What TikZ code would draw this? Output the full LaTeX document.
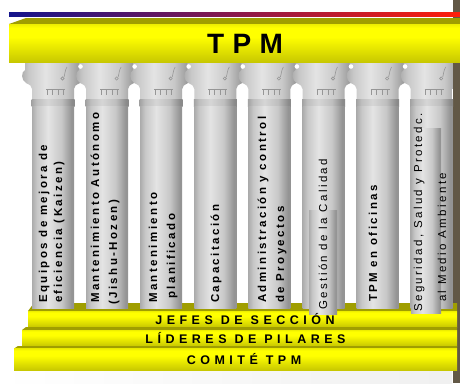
\documentclass[tikz,border=0pt]{standalone}
\usepackage{fontspec}
\setmainfont{Liberation Sans}
\newfontfamily\colfont[LetterSpace=21]{Liberation Sans}
\newfontfamily\barfont[LetterSpace=36]{Liberation Sans}
\newfontfamily\titlefont[LetterSpace=30]{Liberation Sans}

% greys of the columns
\definecolor{shL}{RGB}{172,172,172}
\definecolor{shM}{RGB}{200,200,200}
\definecolor{shH}{RGB}{228,228,228}
\definecolor{shD}{RGB}{148,148,148}
\definecolor{rgL}{RGB}{162,162,162}
\definecolor{rgM}{RGB}{190,190,190}
\definecolor{rgH}{RGB}{214,214,214}
\definecolor{rgD}{RGB}{138,138,138}
% yellows of beam and steps
\definecolor{yD}{RGB}{200,200,0}
\definecolor{yB}{RGB}{255,255,0}
\definecolor{yT}{RGB}{238,238,0}
\definecolor{olive}{RGB}{160,158,0}
\definecolor{frame}{RGB}{98,88,70}
\definecolor{deco}{RGB}{150,150,150}

\pgfdeclarehorizontalshading{shaft}{100bp}{color(0bp)=(shL); color(25bp)=(shL); color(31bp)=(shM); color(44bp)=(shH); color(60bp)=(shM); color(72bp)=(shD); color(100bp)=(shD)}
\pgfdeclarehorizontalshading{ring}{100bp}{color(0bp)=(rgL); color(25bp)=(rgL); color(31bp)=(rgM); color(44bp)=(rgH); color(60bp)=(rgM); color(72bp)=(rgD); color(100bp)=(rgD)}
\pgfdeclareverticalshading{ybar}{100bp}{color(0bp)=(yD); color(25bp)=(yD); color(58bp)=(yB); color(70bp)=(yB); color(75bp)=(yT); color(100bp)=(yT)}

\tikzset{
  coltxt/.style={rotate=90, anchor=base west, inner sep=0pt, font=\fontsize{11.5}{13}\colfont\bfseries},
  coltxtreg/.style={rotate=90, anchor=base west, inner sep=0pt, font=\fontsize{11.5}{13}\colfont},
  bartxt/.style={anchor=base, inner sep=0pt, font=\fontsize{12.5}{14}\barfont\bfseries},
  yellowbar/.style={shading=ybar},
  oliveface/.style={fill=olive},
  shaftfill/.style={shading=shaft},
  ringfill/.style={shading=ring},
  ornament/.style={draw=deco, line width=0.6pt}
}

\begin{document}
\begin{tikzpicture}[x=1pt, y=-1pt]
\useasboundingbox (0,0) rectangle (460,383);
\fill[white] (0,0) rectangle (460,383);
% faint shade along the bottom
\fill[left color=white, right color=black!6] (0,371) rectangle (452,383);

% dark frame strip on the right
\fill[frame] (452.5,0) rectangle (460,383);

% coloured rule on top
\fill[left color={rgb,255:red,20;green,20;blue,140}, middle color={rgb,255:red,140;green,20;blue,140}, right color={rgb,255:red,255;green,30;blue,10}] (9,12.5) rectangle (460,16.5);

% capitals
\begin{scope}
\clip (0,0) rectangle (452.5,383);
\foreach \i in {0,...,7}{
  \pgfmathsetmacro\X{32+54.1*\i}
  \path[shaftfill] (\X-7,62) -- (\X+49,62) -- (\X+49,70)
     .. controls (\X+53,72) and (\X+53,80) .. (\X+48,83)
     .. controls (\X+44,85) and (\X+42,86) .. (\X+42,89)
     -- (\X+42,100) -- (\X,100) -- (\X,89)
     .. controls (\X,86) and (\X-2,85) .. (\X-6,83)
     .. controls (\X-11,80) and (\X-11,72) .. (\X-7,70) -- cycle;
  % volute and egg-and-dart marks
  \draw[ornament] (\X+35,67) .. controls (\X+33,70) and (\X+33,74) .. (\X+32,77);
  \draw[ornament] (\X+30.5,78.5) circle (1.6);
  \draw[ornament] (\X+14,89.5) -- (\X+33,89.5);
  \foreach \d in {15,20,26,31}{\draw[ornament] (\X+\d,89.5) -- (\X+\d,95);}
}
\foreach \i in {0,...,6}{
  \pgfmathsetmacro\X{32+54.1*\i}
  \fill[white] (\X+48.5,66.5) circle (2.3);
}
\end{scope}

% beam
\fill[oliveface] (9,24) -- (26,18) -- (460,18) -- (460,24) -- cycle;
\path[yellowbar] (9,24) rectangle (460,62);
\node (tpm) at (245,53) [anchor=base, inner sep=0pt, font=\fontsize{28}{30}\titlefont\bfseries] {TPM};

% steps
\fill[oliveface] (28,311) -- (34,303) -- (457,303) -- (457,311) -- cycle;
\path[yellowbar] (28,311) rectangle (457,327);
\fill[oliveface] (22,330) -- (26,327) -- (457,327) -- (457,330) -- cycle;
\path[yellowbar] (22,330) rectangle (457,346);
\fill[oliveface] (14,348.5) -- (18,346) -- (457,346) -- (457,348.5) -- cycle;
\path[yellowbar] (14,348.5) rectangle (457,370);

% shafts and neck rings
\foreach \i in {0,...,7}{
  \pgfmathsetmacro\X{32+54.1*\i}
  \path[ringfill] (\X-0.5,99) rectangle (\X+42.5,106);
  \path[shaftfill] (\X,106) rectangle (\X+42,308);
}
% text boxes laid over two of the shafts
\path[shaftfill] (309,210) rectangle (337,314);
\path[shaftfill] (411,128) rectangle (441,313);

% step labels
\node (jefes)   at (245,324.5) [bartxt] {JEFES DE SECCIÓN};
\node (lideres) at (245.5,343) [bartxt] {LÍDERES DE PILARES};
\node (comite)  at (244,364)   [bartxt] {COMITÉ TPM};

% pillar labels
\node (c1a) at (47,303)    [coltxt] {Equipos de mejora de};
\node (c1b) at (62,303)    [coltxt] {eficiencia (Kaizen)};
\node (c2a) at (99,303)    [coltxt] {Mantenimiento Autónomo};
\node (c2b) at (117,305)   [coltxt] {(Jishu-Hozen)};
\node (c3a) at (157,303)   [coltxt] {Mantenimiento};
\node (c3b) at (175,299)   [coltxt] {planificado};
\node (c4)  at (219,303)   [coltxt] {Capacitación};
\node (c5a) at (266,303)   [coltxt] {Administración y control};
\node (c5b) at (284,303)   [coltxt] {de Proyectos};
\node (c6)  at (327,310)   [coltxtreg] {Gestión de la Calidad};
\node (c7)  at (377,302)   [coltxt] {TPM en oficinas};
\node (c8a) at (422,312)   [coltxtreg] {Seguridad, Salud y Protedc.};
\node (c8b) at (446,302)   [coltxtreg] {al Medio Ambiente};
\end{tikzpicture}
\end{document}
